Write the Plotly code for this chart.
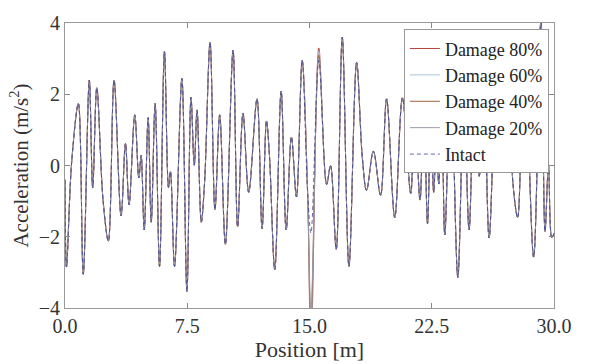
import plotly.graph_objects as go

# Position [m] of the read-off extrema / shoulders of the signal
position = [0.00, 0.09, 0.41, 0.82, 1.12, 1.49, 1.70, 1.95, 2.34, 2.66,
            3.01, 3.44, 3.71, 3.93, 4.28, 4.53, 4.67, 4.86, 5.10, 5.29,
            5.53, 5.80, 6.10, 6.35, 6.47, 6.72, 7.17, 7.48, 7.73, 7.93,
            8.10, 8.36, 8.56, 8.90, 9.20, 9.49, 9.84, 10.31, 10.59, 10.92,
            11.27, 11.78, 12.09, 12.36, 12.54, 12.87, 13.26, 13.57, 13.89, 14.20,
            14.55, 14.88, 15.09, 15.57, 16.05, 16.29, 16.64, 17.01, 17.42, 17.89,
            18.24, 18.50, 18.92, 19.36, 19.73, 20.23, 20.70, 21.21, 21.45, 21.78,
            22.01, 22.24, 22.44, 22.62, 22.78, 22.93, 23.11, 23.30, 23.67, 24.10,
            24.47, 24.79, 25.08, 25.41, 25.70, 26.02, 26.43, 26.85, 27.30, 27.48,
            27.77, 28.16, 28.75, 29.20, 29.45, 29.66, 29.86, 30.00]

# Intact bridge acceleration [m/s^2]
intact = [-0.40, -2.85, 0.10, 1.74, -3.05, 2.40, -0.62, 2.18, -1.00, -2.12,
          2.40, -1.41, 0.62, -1.10, 1.42, -0.35, 0.28, -1.81, 1.34, -1.59,
          1.74, -2.83, 3.20, -0.62, -0.17, -2.83, 2.44, -3.54, 1.91, 0.01,
          1.56, -1.59, -0.50, 3.46, -1.24, 1.42, -2.21, 3.24, -1.72, 1.47,
          -0.75, 1.87, -1.77, 1.25, 0.30, -2.92, 2.09, -1.81, 0.80, -0.88,
          2.95, -0.70, -1.90, 2.95, -0.53, 0.00, -2.35, 3.60, -2.83, 2.89,
          0.23, -0.70, 0.40, -0.84, 1.87, -1.46, 1.90, -0.78, 1.50, -0.97,
          1.80, -1.63, 1.20, -0.75, 0.80, -0.52, 1.80, -1.95, 2.50, -3.14,
          2.00, -1.81, 1.20, -0.30, 2.20, -2.03, 1.50, -0.08, 1.20, -0.50,
          -1.46, 3.65, -2.57, 4.10, -1.85, 0.00, -2.03, -1.90]

# Damage cases: spike near the damage location (15 m)
damage_names = ["Damage 80%", "Damage 60%", "Damage 40%", "Damage 20%"]
damage_trough = [-5.2, -4.8, -4.4, -4.0]   # value at 15.09 m
damage_peak = [3.30, 3.20, 3.10, 3.00]     # value at 15.57 m
damage_colors = ["#b8403c", "#a9c6dc", "#a0603a", "#9a9aa8"]

trough_idx = position.index(15.09)
peak_idx = position.index(15.57)

fig = go.Figure()
for name, tr, pk, col in zip(damage_names, damage_trough, damage_peak, damage_colors):
    ys = list(intact)
    ys[trough_idx] = tr
    ys[peak_idx] = pk
    fig.add_trace(go.Scatter(x=position, y=ys, mode="lines", name=name,
                             line=dict(color=col, width=1, shape="spline", smoothing=1.0)))

fig.add_trace(go.Scatter(x=position, y=intact, mode="lines", name="Intact",
                         line=dict(color="#3a3f96", width=0.8, dash="4px,3px",
                                   shape="spline", smoothing=1.0)))

serif = "Liberation Serif"
fig.update_layout(
    width=590, height=364,
    margin=dict(l=65, r=36, t=13, b=50),
    paper_bgcolor="white", plot_bgcolor="white",
    font=dict(family=serif, size=20, color="#333333"),
    legend=dict(x=0.693, y=0.978, xanchor="left", yanchor="top",
                bgcolor="white", bordercolor="#999999", borderwidth=1,
                font=dict(family=serif, size=18, color="#222222"),
                itemwidth=30, tracegroupgap=0),
    showlegend=True,
)
fig.update_xaxes(range=[0, 30], tickvals=[0, 7.5, 15, 22.5, 30],
                 ticktext=["0.0", "7.5", "15.0", "22.5", "30.0"],
                 tickfont=dict(family=serif, size=20),
                 ticks="inside", ticklen=5, tickcolor="#888888",
                 showline=True, linecolor="#999999", linewidth=1, mirror="ticks",
                 showgrid=False, zeroline=False,
                 title=dict(text="Position [m]", font=dict(size=22, family=serif),
                            standoff=0))
fig.update_yaxes(range=[-4, 4], tickvals=[-4, -2, 0, 2, 4],
                 tickfont=dict(family=serif, size=20),
                 ticks="inside", ticklen=5, tickcolor="#888888",
                 showline=True, linecolor="#999999", linewidth=1, mirror="ticks",
                 showgrid=False, zeroline=False,
                 title=dict(text="Acceleration (m/s<sup>2</sup>)",
                            font=dict(size=21, family=serif), standoff=4))

fig.write_html("out.html")
